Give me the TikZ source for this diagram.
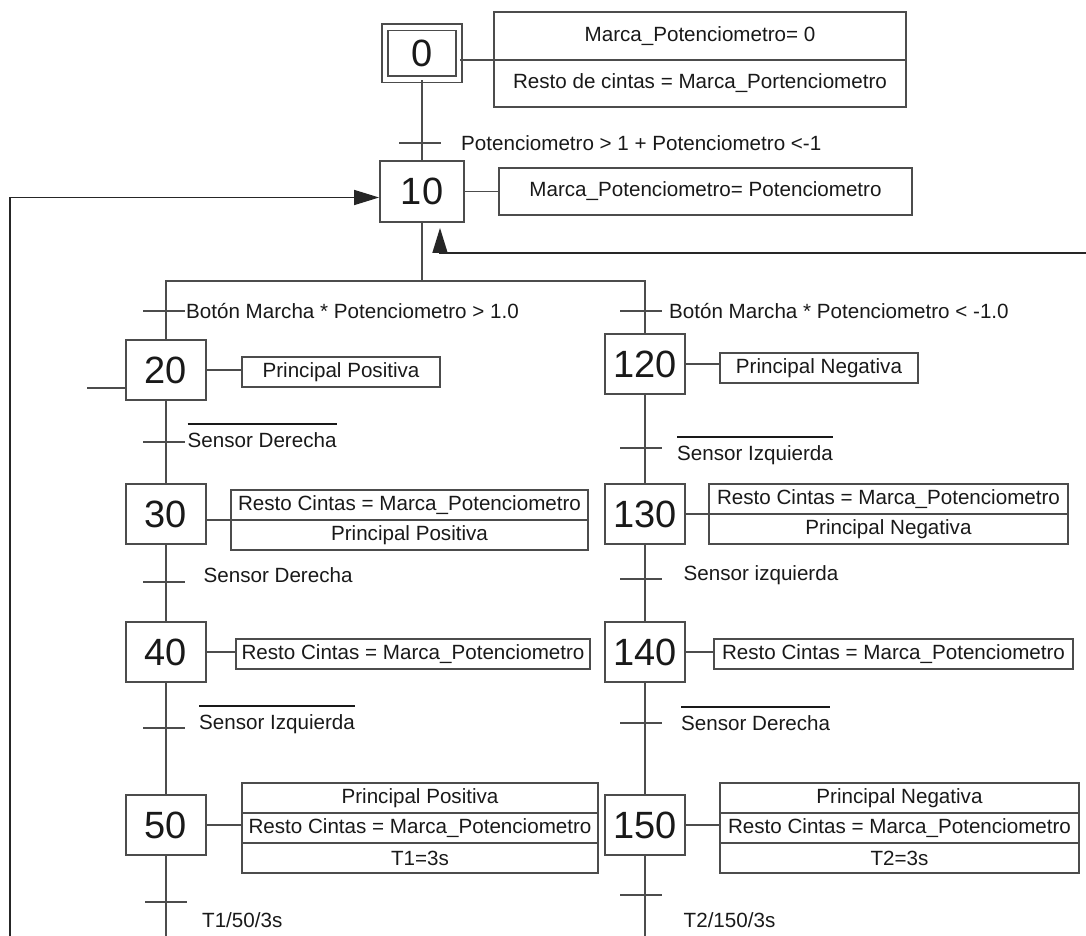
\documentclass[tikz,border=0pt]{standalone}
\usepackage{fontspec}
\setmainfont{Liberation Sans}
\usetikzlibrary{positioning,arrows.meta}

\definecolor{linea}{gray}{0.3}
\definecolor{texto}{gray}{0.1}
\newcommand{\letra}{\fontsize{20.6}{24}\selectfont}
\newcommand{\numero}{\fontsize{38}{44}\selectfont}
\newcommand{\negado}[1]{\vbox{\hrule height 1.3pt\kern 8pt\hbox{#1}}}

\tikzset{
  etapa/.style={draw=linea, line width=1.8pt, fill=white, minimum width=80, minimum height=60, inner sep=0pt, font=\numero, text=texto},
  accion/.style={draw=linea, line width=1.7pt, minimum height=30, inner sep=0pt, outer sep=0pt, font=\letra, text=texto, anchor=north west},
  tick/.style={fill=linea, minimum width=42, minimum height=1.8, inner sep=0pt},
  cond/.style={anchor=base west, inner sep=0pt, font=\letra, text=texto},
  conector/.style={draw=linea, line width=1.8pt},
  flecha/.style={draw=black!85, line width=1.6pt, -{Triangle[length=25pt,width=15pt]}}
}

\begin{document}
\begin{tikzpicture}[x=1pt, y=-1pt]
\useasboundingbox (0,0) rectangle (1086,936);

% Etapas
\node[etapa, double=white, double distance=4.4pt, minimum width=74, minimum height=52] (e0) at (422,53.5) {0};
\node[etapa, minimum width=84, minimum height=61] (e10) at (422,191.5) {10};
\node[etapa] (e20) at (166,370) {20};
\node[etapa] (e30) at (166,514) {30};
\node[etapa] (e40) at (166,652) {40};
\node[etapa] (e50) at (166,825) {50};
\node[etapa] (e120) at (645,364) {120};
\node[etapa] (e130) at (645,514) {130};
\node[etapa] (e140) at (645,652) {140};
\node[etapa] (e150) at (645,825) {150};

% Acciones
\node[accion, minimum width=412, minimum height=48] (a0a) at (494,12) {Marca\_Potenciometro= 0};
\node[accion, minimum width=412, minimum height=47, below=0pt of a0a] (a0b) {Resto de cintas = Marca\_Portenciometro};
\node[accion, minimum width=413, minimum height=47] (a10) at (499,168) {Marca\_Potenciometro= Potenciometro};
\node[accion, minimum width=198] (a20) at (242,357) {Principal Positiva};
\node[accion, minimum width=198] (a120) at (720,353) {Principal Negativa};
\node[accion, minimum width=357] (a30a) at (231,490) {Resto Cintas = Marca\_Potenciometro};
\node[accion, minimum width=357, below=0pt of a30a] (a30b) {Principal Positiva};
\node[accion, minimum width=359] (a130a) at (709,484) {Resto Cintas = Marca\_Potenciometro};
\node[accion, minimum width=359, below=0pt of a130a] (a130b) {Principal Negativa};
\node[accion, minimum width=354] (a40) at (236,639) {Resto Cintas = Marca\_Potenciometro};
\node[accion, minimum width=359] (a140) at (714,639) {Resto Cintas = Marca\_Potenciometro};
\node[accion, minimum width=356] (a50a) at (242,783) {Principal Positiva};
\node[accion, minimum width=356, below=0pt of a50a] (a50b) {Resto Cintas = Marca\_Potenciometro};
\node[accion, minimum width=356, below=0pt of a50b] (a50c) {T1=3s};
\node[accion, minimum width=359] (a150a) at (720,783) {Principal Negativa};
\node[accion, minimum width=359, below=0pt of a150a] (a150b) {Resto Cintas = Marca\_Potenciometro};
\node[accion, minimum width=359, below=0pt of a150b] (a150c) {T2=3s};

% Transiciones
\node[tick] (tr0) at (420,143) {};
\node[tick] (trL1) at (164,311) {};
\node[tick] (trL2) at (164,442) {};
\node[tick] (trL3) at (164,582) {};
\node[tick] (trL4) at (164,728) {};
\node[tick] (trL5) at (166,902) {};
\node[tick] (trR1) at (641,311) {};
\node[tick] (trR2) at (641,448) {};
\node[tick] (trR3) at (641,579) {};
\node[tick] (trR4) at (641,723) {};
\node[tick] (trR5) at (641,895) {};

% Receptividades
\node[cond] (c0) at (461,150.5) {Potenciometro > 1 + Potenciometro <-1};
\node[cond] (cL1) at (186,318.5) {Botón Marcha * Potenciometro > 1.0};
\node[cond] (cR1) at (669,318.5) {Botón Marcha * Potenciometro < -1.0};
\node[cond] (cL2) at (187.5,447.5) {\negado{Sensor Derecha}};
\node[cond] (cR2) at (677,460.5) {\negado{Sensor Izquierda}};
\node[cond] (cL3) at (203.5,582.5) {Sensor Derecha};
\node[cond] (cR3) at (683.5,580.5) {Sensor izquierda};
\node[cond] (cL4) at (199,729.5) {\negado{Sensor Izquierda}};
\node[cond] (cR4) at (681,730.5) {\negado{Sensor Derecha}};
\node[cond] (cL5) at (202,927.5) {T1/50/3s};
\node[cond] (cR5) at (683.5,927.5) {T2/150/3s};

\coordinate (divL) at (166,281);
\coordinate (divR) at (645,281);
\coordinate (finL) at (166,936);
\coordinate (finR) at (645,936);
\coordinate (salto20) at (87,388);
\coordinate (retIzq) at (10,936);
\coordinate (retDer) at (1086,253);

% Lineas de evolucion
\draw[conector] (e0) -- (e10);
\draw[conector] (e10) -- (e10 |- divL);
\draw[conector] (e20) -- (divL) -- (divR) -- (e120);
\draw[conector] (e20) -- (e30) -- (e40) -- (e50) -- (finL);
\draw[conector] (e120) -- (e130) -- (e140) -- (e150) -- (finR);
\draw[conector] (salto20) -- (salto20 -| e20.west);

% Enlaces etapa - accion
\draw[conector] (e0.east |- a0a.south) -- (a0a.south west);
\draw[conector] (e10) -- (a10);
\draw[conector] (e20.east) -- (e20.east -| a20.west);
\draw[conector] (e120.east) -- (e120.east -| a120.west);
\draw[conector] (a30a.south west -| e30.east) -- (a30a.south west);
\draw[conector] (a130a.south west -| e130.east) -- (a130a.south west);
\draw[conector] (e40.east) -- (e40.east -| a40.west);
\draw[conector] (e140.east) -- (e140.east -| a140.west);
\draw[conector] (e50.east) -- (e50.east -| a50b.west);
\draw[conector] (e150.east) -- (e150.east -| a150b.west);

% Retornos
\draw[flecha] (retIzq) |- ([yshift=-6pt]e10.west);
\draw[flecha, shorten >=5pt] (retDer) -| ([xshift=18pt]e10.south);
\end{tikzpicture}
\end{document}
